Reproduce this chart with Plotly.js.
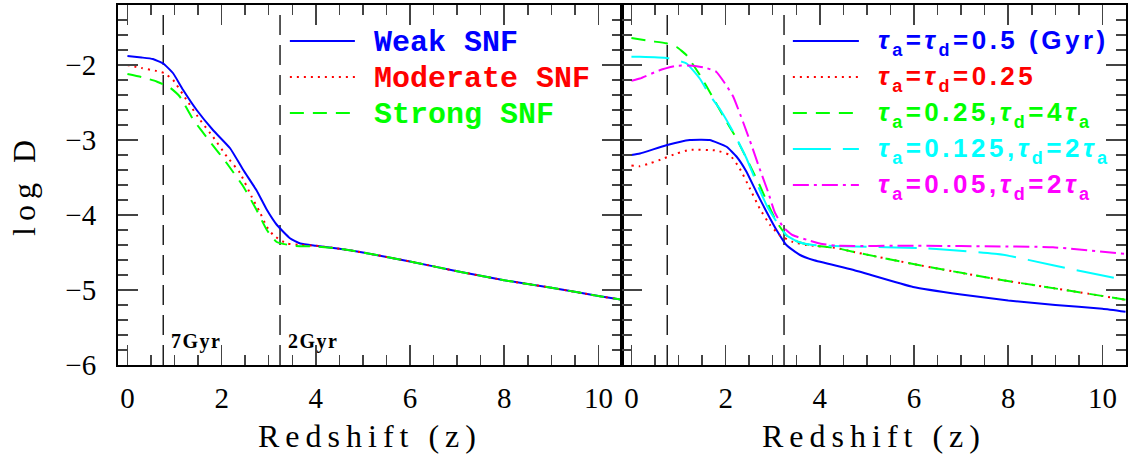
<!DOCTYPE html>
<html><head><meta charset="utf-8">
<script src="https://cdn.plot.ly/plotly-3.0.1.min.js"></script>
<style>
body{margin:0;background:#fff}
.g-xtitle text,.g-x2title text{letter-spacing:6px}
.g-ytitle text{letter-spacing:6px}
g.annotation[data-index="0"] text,g.annotation[data-index="1"] text{letter-spacing:1.5px}
g.annotation[data-index="5"] text,g.annotation[data-index="6"] text,g.annotation[data-index="7"] text,g.annotation[data-index="8"] text,g.annotation[data-index="9"] text{letter-spacing:3.5px}
</style></head>
<body><div id="chart" style="width:1133px;height:457px"></div>
<script>
// ---- Left panel: supernova feedback strength ----
const weakZ = [0, 0.3, 0.54, 0.76, 0.97, 1.18, 1.47, 1.82, 2.18, 2.46, 2.74, 2.96, 3.17, 3.45, 3.67, 4.0, 4.5, 5, 6, 7, 8, 9, 10, 10.5];
const weakD = [-1.88, -1.9, -1.92, -1.98, -2.11, -2.33, -2.6, -2.87, -3.11, -3.4, -3.67, -3.93, -4.13, -4.31, -4.38, -4.41, -4.45, -4.5, -4.62, -4.75, -4.87, -4.97, -5.08, -5.13];
const moderateZ = [0, 0.3, 0.62, 0.79, 0.97, 1.26, 1.54, 1.82, 2.11, 2.39, 2.64, 2.81, 2.96, 3.1, 3.38, 3.7, 4.0, 4.5, 5, 6, 7, 8, 9, 10, 10.5];
const moderateD = [-2.0, -2.04, -2.08, -2.11, -2.2, -2.47, -2.73, -2.96, -3.22, -3.44, -3.76, -3.96, -4.16, -4.27, -4.38, -4.4, -4.41, -4.45, -4.5, -4.62, -4.75, -4.87, -4.97, -5.08, -5.13];
const strongZ = [0, 0.3, 0.62, 0.9, 1.11, 1.4, 1.75, 2.11, 2.46, 2.74, 2.96, 3.17, 3.52, 4.0, 4.5, 5, 6, 7, 8, 9, 10, 10.5];
const strongD = [-2.12, -2.16, -2.22, -2.3, -2.42, -2.73, -3.02, -3.31, -3.62, -3.93, -4.2, -4.36, -4.41, -4.42, -4.45, -4.5, -4.62, -4.75, -4.87, -4.97, -5.08, -5.13];

// ---- Right panel: accretion / depletion timescales ----
const tau05Z = [0, 0.18, 0.74, 1.24, 1.66, 2.02, 2.23, 2.44, 2.65, 2.87, 3.08, 3.29, 3.57, 3.86, 4.7, 5.98, 7.0, 8.0, 9.0, 10.0, 10.49];
const tau05D = [-3.2, -3.18, -3.07, -3.0, -3.0, -3.09, -3.22, -3.42, -3.69, -3.96, -4.2, -4.4, -4.53, -4.6, -4.73, -4.96, -5.06, -5.14, -5.2, -5.25, -5.29];
const tau025Z = [0, 0.18, 0.4, 0.67, 0.96, 1.24, 1.8, 2.09, 2.3, 2.51, 2.72, 2.94, 3.15, 3.43, 3.72, 4.35, 4.7, 6.12, 7.89, 9.31, 10.49];
const tau025D = [-3.34, -3.35, -3.31, -3.25, -3.18, -3.13, -3.14, -3.2, -3.38, -3.64, -3.91, -4.13, -4.27, -4.36, -4.4, -4.44, -4.49, -4.67, -4.87, -5.01, -5.13];
const tau025d4Z = [0, 0.39, 0.74, 0.96, 1.17, 1.45, 1.7, 1.94, 2.23, 2.51, 2.72, 2.94, 3.08, 3.29, 3.55, 3.79, 4.35, 4.7, 6.12, 7.89, 9.31, 10.49];
const tau025d4D = [-1.64, -1.68, -1.71, -1.76, -1.87, -2.13, -2.4, -2.67, -2.98, -3.33, -3.6, -3.91, -4.09, -4.27, -4.36, -4.4, -4.44, -4.49, -4.67, -4.87, -5.01, -5.13];
const tau0125Z = [0, 0.18, 0.78, 1.17, 1.45, 1.66, 1.87, 2.16, 2.44, 2.65, 2.87, 3.08, 3.29, 3.55, 3.86, 4.7, 6.12, 6.83, 7.89, 8.95, 10.49];
const tau0125D = [-1.89, -1.89, -1.91, -1.98, -2.18, -2.4, -2.58, -2.89, -3.24, -3.56, -3.87, -4.09, -4.27, -4.36, -4.4, -4.42, -4.44, -4.47, -4.53, -4.67, -4.87];
const tau005Z = [0, 0.18, 0.6, 0.96, 1.31, 1.59, 1.8, 1.98, 2.16, 2.37, 2.55, 2.72, 2.9, 3.04, 3.22, 3.43, 3.72, 4.0, 4.35, 6, 8, 8.95, 10.49];
const tau005D = [-2.21, -2.18, -2.07, -2.01, -2.01, -2.04, -2.09, -2.24, -2.42, -2.76, -3.07, -3.38, -3.69, -3.96, -4.16, -4.27, -4.33, -4.38, -4.41, -4.41, -4.42, -4.43, -4.52];

// ---- Age markers ----
const ageZ = [0.76, 3.24];
const ageLabels = ['7Gyr', '2Gyr'];
const ageLabelY = -5.68;
const yLimits = [-6, -1.2];
const xLimits = [-0.2, 10.5];

const leftNames = ['Weak SNF', 'Moderate SNF', 'Strong SNF'];
const T = '<i style="font-size:26px">τ</i>';
const SA = '<span style="font-size:18px;baseline-shift:-7px">a</span>';
const SD = '<span style="font-size:18px;baseline-shift:-7px">d</span>';
const rightNames = [
  '<b style="font-size:26px">' + T + SA + '=' + T + SD + '=0.5 (Gyr)</b>',
  '<b style="font-size:26px">' + T + SA + '=' + T + SD + '=0.25</b>',
  '<b style="font-size:26px">' + T + SA + '=0.25,' + T + SD + '=4' + T + SA + '</b>',
  '<b style="font-size:26px">' + T + SA + '=0.125,' + T + SD + '=2' + T + SA + '</b>',
  '<b style="font-size:26px">' + T + SA + '=0.05,' + T + SD + '=2' + T + SA + '</b>'
];

const C = {blue:'#0000ff', red:'#ff0000', green:'#00ff00', cyan:'#00ffff', magenta:'#ff00ff'};
const DASH = {solid:'solid', dot:'2px,5px', dash:'14px,9px', longdash:'38px,12px', dashdot:'16px,5px,3px,5px'};

function tr(x, y, color, dash, xa, ya, name){
  return {x:x, y:y, type:'scatter', mode:'lines', name:name, xaxis:xa, yaxis:ya, showlegend:false,
    line:{color:color, width:2, dash:dash, shape:'spline', smoothing:0.4}, hoverinfo:'skip'};
}

const data = [];
ageZ.forEach(z => {
  data.push({x:[z, z], y:yLimits, type:'scatter', mode:'lines', xaxis:'x', yaxis:'y', showlegend:false,
    line:{color:'#000', width:1.3, dash:'20px,10px'}, hoverinfo:'skip'});
  data.push({x:[z, z], y:yLimits, type:'scatter', mode:'lines', xaxis:'x2', yaxis:'y2', showlegend:false,
    line:{color:'#000', width:1.3, dash:'20px,10px'}, hoverinfo:'skip'});
});
data.push(tr(weakZ, weakD, C.blue, DASH.solid, 'x', 'y', leftNames[0]));
data.push(tr(moderateZ, moderateD, C.red, DASH.dot, 'x', 'y', leftNames[1]));
data.push(tr(strongZ, strongD, C.green, DASH.dash, 'x', 'y', leftNames[2]));
data.push(tr(tau05Z, tau05D, C.blue, DASH.solid, 'x2', 'y2', 'tau 0.5'));
data.push(tr(tau025Z, tau025D, C.red, DASH.dot, 'x2', 'y2', 'tau 0.25'));
data.push(tr(tau025d4Z, tau025d4D, C.green, DASH.dash, 'x2', 'y2', 'tau 0.25 4'));
data.push(tr(tau0125Z, tau0125D, C.cyan, DASH.longdash, 'x2', 'y2', 'tau 0.125'));
data.push(tr(tau005Z, tau005D, C.magenta, DASH.dashdot, 'x2', 'y2', 'tau 0.05'));

const tickFont = {family:'Liberation Serif', size:29, color:'#000'};
const titleFont = {family:'Liberation Serif', size:32, color:'#000'};
function ax(extra){
  return Object.assign({
    showline:true, linecolor:'#000', linewidth:2, mirror:'ticks', ticks:'inside', ticklen:20, tickwidth:1.5,
    tickcolor:'#444', showgrid:false, zeroline:false, tickfont:tickFont, fixedrange:true
  }, extra);
}
const xMinor = {dtick:0.5, tick0:0, ticklen:10, ticks:'inside', tickcolor:'#444', tickwidth:1.5, showgrid:false};
const yMinor = {dtick:0.2, tick0:0, ticklen:10, ticks:'inside', tickcolor:'#444', tickwidth:1.5, showgrid:false};

const legendRowsY = [0.9, 0.8, 0.7, 0.6, 0.5];
const leftColors = [C.blue, C.red, C.green];
const leftDash = [DASH.solid, DASH.dot, DASH.dash];
const rightColors = [C.blue, C.red, C.green, C.cyan, C.magenta];
const rightDash = [DASH.solid, DASH.dot, DASH.dash, DASH.longdash, DASH.dashdot];

const shapes = [];
const annotations = [];
ageLabels.forEach((t, i) => annotations.push({
  text:'<b>' + t + '</b>', x:ageZ[i] + 0.12, y:ageLabelY, xref:'x', yref:'y', xanchor:'left', yanchor:'middle',
  align:'left', showarrow:false, font:{family:'Liberation Serif', size:20, color:'#000'}
}));
leftNames.forEach((n, i) => {
  shapes.push({type:'line', xref:'x domain', yref:'y domain', x0:0.341, x1:0.470, y0:legendRowsY[i], y1:legendRowsY[i],
    line:{color:leftColors[i], width:2, dash:leftDash[i]}});
  annotations.push({text:'<b>' + n + '</b>', xref:'x domain', yref:'y domain', x:0.503, y:legendRowsY[i] - 0.005,
    xanchor:'left', yanchor:'middle', align:'left', showarrow:false,
    font:{family:'Liberation Mono', size:30, color:leftColors[i]}});
});
rightNames.forEach((n, i) => {
  shapes.push({type:'line', xref:'x2 domain', yref:'y2 domain', x0:0.339, x1:0.470, y0:legendRowsY[i], y1:legendRowsY[i],
    line:{color:rightColors[i], width:2, dash:rightDash[i]}});
  annotations.push({text:n, xref:'x2 domain', yref:'y2 domain', x:0.503, y:legendRowsY[i] - 0.005,
    xanchor:'left', yanchor:'middle', align:'left', showarrow:false,
    font:{family:'Liberation Sans', size:26, color:rightColors[i]}});
});

const layout = {
  width:1133, height:457, margin:{l:118, r:7, t:5, b:92}, paper_bgcolor:'#fff', plot_bgcolor:'#fff',
  showlegend:false,
  xaxis: ax({domain:[0, 0.5], anchor:'y', range:xLimits, dtick:2, tick0:0, minor:xMinor, ticklabelstandoff:6,
    title:{text:'Redshift (z)', font:titleFont, standoff:12}}),
  xaxis2: ax({domain:[0.5, 1], anchor:'y2', range:xLimits, dtick:2, tick0:0, minor:xMinor, ticklabelstandoff:6,
    title:{text:'Redshift (z)', font:titleFont, standoff:12}}),
  yaxis: ax({domain:[0, 1], anchor:'x', range:yLimits, dtick:1, tick0:0, minor:yMinor, ticklabelstandoff:14,
    title:{text:'log D', font:titleFont, standoff:20}}),
  yaxis2: ax({domain:[0, 1], anchor:'x2', range:yLimits, dtick:1, tick0:0, minor:yMinor, showticklabels:false}),
  shapes:shapes, annotations:annotations
};

Plotly.newPlot('chart', data, layout, {displayModeBar:false, staticPlot:true});
</script></body></html>
